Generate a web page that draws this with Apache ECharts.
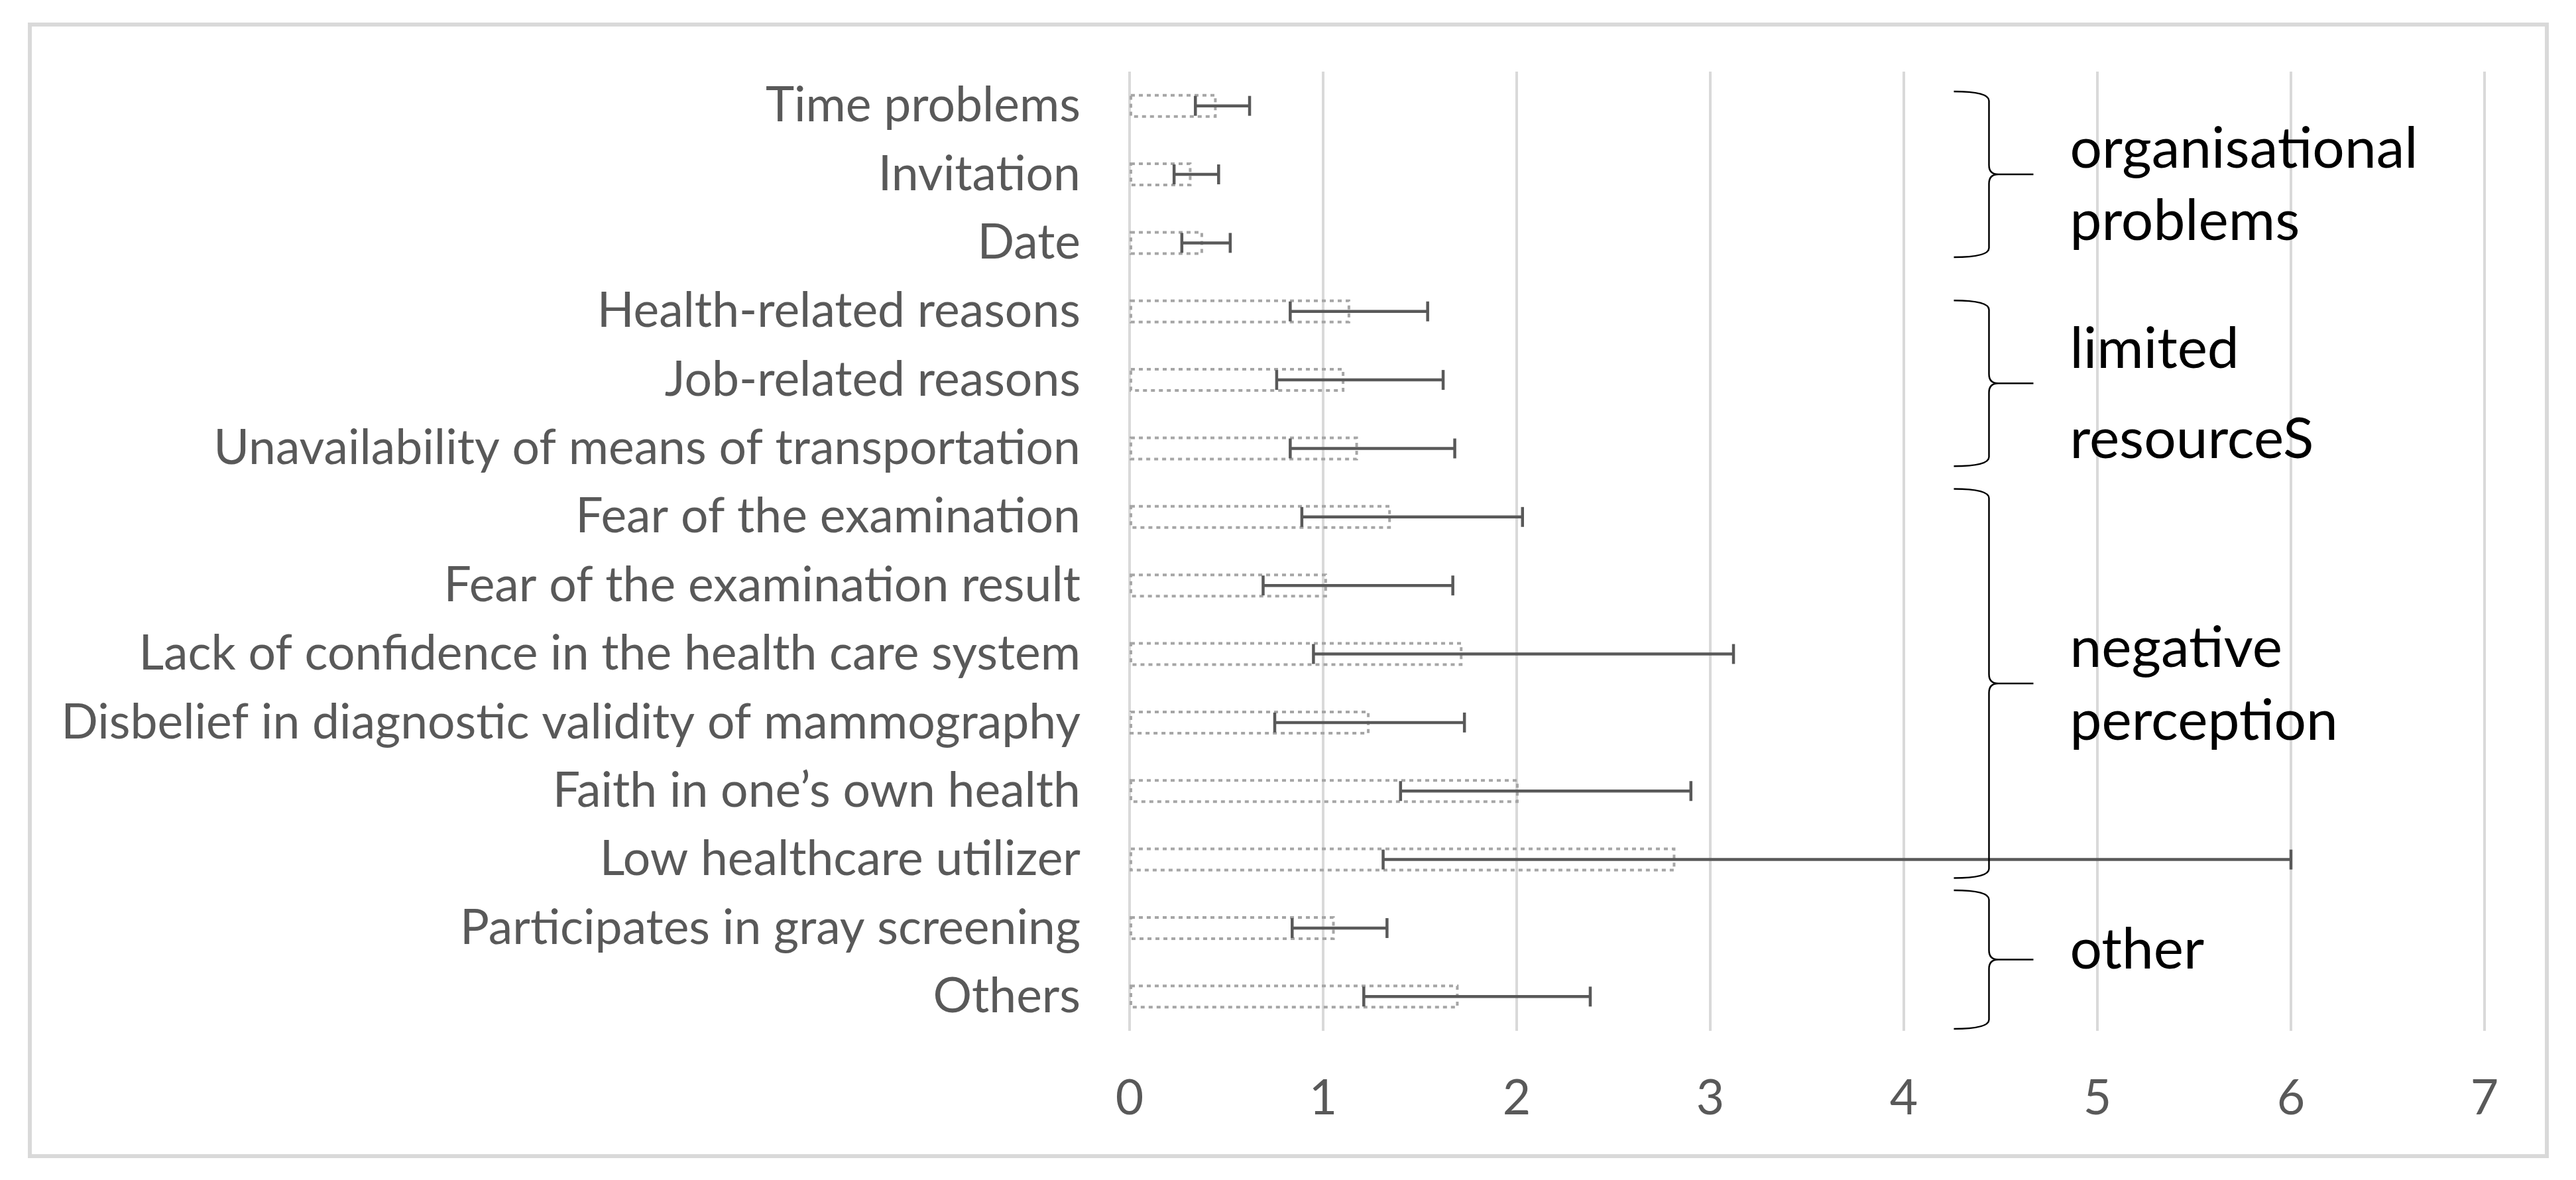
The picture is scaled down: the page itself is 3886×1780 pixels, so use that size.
<!DOCTYPE html>
<html lang="en">
<head>
<meta charset="UTF-8">
<title>Reasons for non-participation</title>
<style>
  html, body { margin: 0; padding: 0; background: #fff; }
  #chart { width: 3886px; height: 1780px; }
</style>
<script src="https://cdn.jsdelivr.net/npm/echarts@6/dist/echarts.min.js"></script>
</head>
<body>
<div id="chart"></div>
<script>
  // reasons, listed top to bottom
  const categories = [
    'Time problems',
    'Invitation',
    'Date',
    'Health-related reasons',
    'Job-related reasons',
    'Unavailability of means of transportation',
    'Fear of the examination',
    'Fear of the examination result',
    'Lack of confidence in the health care system',
    'Disbelief in diagnostic validity of mammography',
    'Faith in one’s own health',
    'Low healthcare utilizer',
    'Participates in gray screening',
    'Others'
  ];
  const barValues = [0.45, 0.32, 0.38, 1.14, 1.11, 1.18, 1.35, 1.02, 1.72, 1.24, 2.01, 2.82, 1.06, 1.70];
  const errLow    = [0.34, 0.23, 0.27, 0.83, 0.76, 0.83, 0.89, 0.69, 0.95, 0.75, 1.40, 1.31, 0.84, 1.21];
  const errHigh   = [0.62, 0.46, 0.52, 1.54, 1.62, 1.68, 2.03, 1.67, 3.12, 1.73, 2.90, 6.00, 1.33, 2.38];

  // bracket groups, in row units (0 = first row centre)
  const groupNames  = ['organisational\nproblems', 'limited\nresourceS', 'negative\nperception', 'other'];
  const groupFrom   = [-0.21, 2.84, 5.59, 11.45];
  const groupTo     = [2.21, 5.26, 11.27, 13.47];
  const groupTextAt = [1.16, 4.22, 8.45, 12.32];
  const groupLineGap = [109, 136, 110, 110];
  const braceX = 4.44;

  const FONT = 'Lato, "Open Sans", sans-serif';
  function fitSize(text, width) {
    const ctx = document.createElement('canvas').getContext('2d');
    ctx.font = '100px ' + FONT;
    return 100 * width / ctx.measureText(text).width;
  }
  const labelSize = fitSize('Disbelief in diagnostic validity of mammography', 1538);
  const groupSize = fitSize('organisational', 525);

  const chart = echarts.init(document.getElementById('chart'));

  chart.setOption({
    animation: false,
    backgroundColor: '#fff',
    textStyle: { fontFamily: FONT },
    grid: { left: 1704, right: 138, top: 108, bottom: 225, containLabel: false },
    graphic: [{
      type: 'rect',
      shape: { x: 45, y: 37, width: 3797, height: 1707 },
      style: { fill: null, stroke: '#d9d9d9', lineWidth: 6 },
      silent: true
    }],
    xAxis: {
      type: 'value',
      min: 0,
      max: 7,
      interval: 1,
      axisLine: { show: false },
      axisTick: { show: false },
      splitLine: { show: true, lineStyle: { color: '#d9d9d9', width: 4 } },
      axisLabel: {
        color: '#595959',
        fontSize: labelSize,
        fontFamily: FONT,
        lineHeight: labelSize,
        margin: 102 - labelSize / 2
      }
    },
    yAxis: [{
      type: 'category',
      data: categories,
      inverse: true,
      axisLine: { show: false },
      axisTick: { show: false },
      splitLine: { show: false },
      axisLabel: { color: '#595959', fontSize: labelSize, fontFamily: FONT, margin: 74 }
    }, {
      // hidden helper axis so brackets can sit between rows
      type: 'value',
      min: -0.5,
      max: 13.5,
      inverse: true,
      show: false
    }],
    series: [{
      type: 'bar',
      data: barValues,
      barWidth: 36,
      itemStyle: {
        color: 'rgba(255,255,255,0)',
        borderColor: '#a6a6a6',
        borderWidth: 4,
        borderType: [6, 6]
      },
      z: 2
    }, {
      type: 'custom',
      data: categories.map((c, i) => [errLow[i], errHigh[i], i]),
      encode: { x: [0, 1], y: 2 },
      z: 3,
      renderItem: function (params, api) {
        const a = api.coord([api.value(0), api.value(2)]);
        const b = api.coord([api.value(1), api.value(2)]);
        const cap = 15;
        const style = { stroke: '#595959', lineWidth: 4.5 };
        return {
          type: 'group',
          children: [
            { type: 'line', shape: { x1: a[0], y1: a[1], x2: b[0], y2: b[1] }, style: style },
            { type: 'line', shape: { x1: a[0], y1: a[1] - cap, x2: a[0], y2: a[1] + cap }, style: style },
            { type: 'line', shape: { x1: b[0], y1: b[1] - cap, x2: b[0], y2: b[1] + cap }, style: style }
          ]
        };
      }
    }, {
      type: 'custom',
      yAxisIndex: 1,
      clip: false,
      z: 4,
      data: groupNames.map((n, i) => [braceX, groupFrom[i], groupTo[i], groupTextAt[i]]),
      encode: { x: 0, y: [1, 2] },
      renderItem: function (params, api) {
        const top = api.coord([api.value(0), api.value(1)]);
        const bot = api.coord([api.value(0), api.value(2)]);
        const txt = api.coord([api.value(0), api.value(3)]);
        const x = top[0], y1 = top[1], y2 = bot[1], ym = (y1 + y2) / 2;
        const d = 'M' + (x - 53) + ',' + y1 +
          ' Q' + x + ',' + y1 + ' ' + x + ',' + (y1 + 14) +
          ' L' + x + ',' + (ym - 14) +
          ' Q' + x + ',' + ym + ' ' + (x + 14) + ',' + ym +
          ' L' + (x + 67) + ',' + ym +
          ' M' + (x + 14) + ',' + ym +
          ' Q' + x + ',' + ym + ' ' + x + ',' + (ym + 14) +
          ' L' + x + ',' + (y2 - 14) +
          ' Q' + x + ',' + y2 + ' ' + (x - 53) + ',' + y2;
        return {
          type: 'group',
          children: [{
            type: 'path',
            shape: { pathData: d },
            style: { fill: null, stroke: '#000', lineWidth: 2.5 }
          }, {
            type: 'text',
            x: x + 122,
            y: txt[1],
            style: {
              text: groupNames[params.dataIndex],
              fill: '#000',
              fontSize: groupSize,
              fontFamily: FONT,
              lineHeight: groupLineGap[params.dataIndex],
              align: 'left',
              verticalAlign: 'middle'
            }
          }]
        };
      }
    }]
  });
</script>
</body>
</html>
